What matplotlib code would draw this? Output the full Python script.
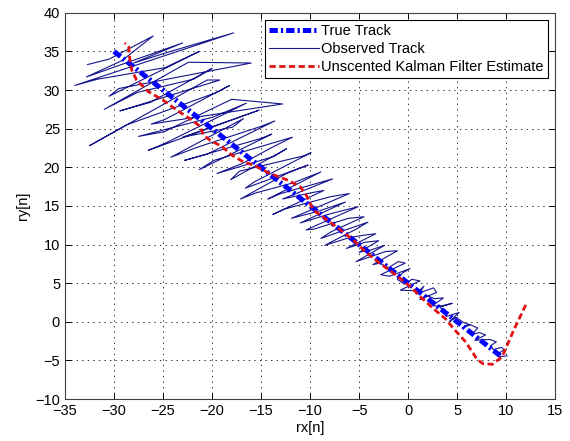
import matplotlib
matplotlib.use("Agg")
import matplotlib.pyplot as plt

plt.rcParams['font.family'] = ['Liberation Sans', 'DejaVu Sans']
plt.rcParams['lines.scale_dashes'] = False

# true track (straight line)
true_x = [-30.0, 9.6]
true_y = [35.0, -4.6]

# observed (noisy) track
obs_x = [10.1, 9.4, 9.1, 9.8, 9.5, 8.7, 8.4, 9.0, 8.4, 7.7, 6.8, 7.9, 7.3, 6.5, 7.1, 6.2,
         5.5, 6.3, 5.6, 4.9, 4.2, 4.6, 5.2, 3.9, 3.7, 3.2, 4.5, 3.5, 2.5, 3.6, 2.7, 1.9,
         1.2, 2.9, 2.6, 0.8, 1.6, 1.3, -0.8, 1.2, 0.4, -0.4, -1.1, -0.6, 0.2, -1.9,
         -2.8, -0.3, -1.0, -2.0, -2.9, -3.6, -1.1, -2.3, -5.3, -2.4, -3.8, -5.0,
         -3.0, -4.4, -6.3, -3.3, -4.6, -6.0, -8.5, -5.3, -4.1, -8.9, -7.8, -4.5,
         -6.1, -9.6, -10.4, -5.1, -7.9, -11.0, -6.4, -9.2, -11.9, -6.0, -7.9, -12.6,
         -13.8, -8.6, -9.9, -12.8, -7.7, -13.0, -14.3, -8.9, -11.7, -15.5, -17.1,
         -12.4, -10.2, -16.6, -15.7, -9.9, -10.6, -17.2, -18.1, -12.4, -13.7, -19.5,
         -16.9, -14.0, -11.8, -19.8, -21.3, -13.9, -15.1, -22.8, -20.5, -13.6, -15.0,
         -21.5, -24.2, -16.8, -17.9, -23.0, -15.2, -26.5, -24.8, -16.5, -19.9, -27.5,
         -24.9, -18.0, -12.8, -26.2, -24.8, -18.2, -19.5, -28.7, -32.5, -20.5, -19.2,
         -29.4, -26.3, -20.0, -21.9, -27.6, -31.0, -22.4, -16.0, -29.5, -30.5, -21.3,
         -24.8, -31.7, -34.0, -17.8, -24.5, -28.0, -23.0, -32.8, -29.2, -26.0, -30.5,
         -32.7]
obs_y = [-4.4, -4.5, -4.2, -3.6, -3.3, -3.6, -3.1, -2.6, -2.3, -2.3, -2.4, -1.7, -1.4, -1.6,
         -0.8, -0.3, -0.8, -0.4, -0.05, 0.6, 0.0, 0.5, 1.2, 0.7, 1.2, 2.0, 2.4, 2.0,
         2.1, 3.1, 3.0, 3.4, 2.9, 3.8, 4.4, 3.6, 4.6, 4.0, 4.1, 5.3, 5.5, 4.9, 5.5,
         6.3, 6.9, 5.9, 6.1, 7.6, 7.8, 7.0, 7.6, 7.4, 9.2, 9.1, 7.8, 9.9, 9.3, 9.0,
         10.5, 10.3, 9.5, 11.4, 11.2, 10.9, 9.9, 12.0, 12.9, 10.8, 11.7, 13.6,
         13.4, 12.0, 11.9, 14.9, 14.0, 12.8, 15.5, 14.3, 13.4, 16.6, 16.2, 14.6,
         13.9, 17.0, 16.7, 15.9, 18.5, 16.6, 15.9, 19.4, 18.0, 16.7, 15.9,
         19.2, 20.3, 17.3, 18.1, 21.9, 21.5, 19.5, 18.4, 22.4, 21.4, 19.2,
         20.5, 22.5, 23.9, 20.9, 19.7, 24.3, 23.7, 20.9, 21.7, 26.0, 25.3,
         22.6, 21.3, 26.3, 25.2, 23.9, 27.4, 22.2, 23.1, 28.3, 26.5, 24.0,
         24.6, 28.8, 28.2, 25.6, 26.2, 30.6, 29.7, 25.5, 22.8, 31.3, 31.3,
         27.3, 28.4, 32.8, 31.4, 29.7, 27.5, 33.6, 33.5, 30.2, 29.2, 35.0,
         32.9, 31.4, 30.6, 37.4, 34.9, 33.5, 36.1, 31.7, 33.8, 37.0, 34.0,
         33.3]

# unscented kalman filter estimate
ukf_x = [12.0, 10.8, 9.6, 8.6, 7.6, 7.0, 6.5, 5.8, 4.8, 3.8, 2.5, 1.2, 0.3, -0.5, -1.5,
         -2.9, -4.2, -5.6, -6.9, -8.3, -9.7, -10.3, -11.0, -12.4, -14.1, -15.8, -16.8,
         -18.0, -19.0, -20.2, -20.9, -21.2, -22.4, -23.6, -25.0, -26.5, -27.7, -28.2,
         -28.4, -28.5, -28.9]
ukf_y = [2.2, -1.0, -4.5, -5.5, -5.4, -4.8, -3.8, -2.5, -1.1, 0.4, 1.8, 3.3, 4.5, 5.3, 6.3,
         7.6, 8.9, 10.6, 11.9, 13.2, 14.5, 16.2, 17.5, 18.4, 19.2, 20.3, 20.7,
         21.6, 22.7, 23.5, 24.2, 25.3, 26.4, 27.4, 28.7, 29.8, 31.3, 32.6,
         34.1, 35.6, 36.1]

fig = plt.figure(figsize=(5.7, 4.41), dpi=100)
ax = fig.add_axes([0.114, 0.095, 0.860, 0.876])

ax.plot(true_x, true_y, color='#0000ff', lw=3.6, linestyle=(0, (6.0, 2.2, 1.6, 2.2)),
        label='True Track', zorder=3)
ax.plot(obs_x, obs_y, color='#14148c', lw=0.8, label='Observed Track', zorder=2)
ax.plot(ukf_x, ukf_y, color='#e01010', lw=2.0, linestyle=(0, (4.5, 2.5)),
        label='Unscented Kalman Filter Estimate', zorder=4)

ax.set_xlim(-35, 15)
ax.set_ylim(-10, 40)
ax.set_xticks(range(-35, 16, 5))
ax.set_yticks(range(-10, 41, 5))
ax.tick_params(direction='in', top=True, right=True, length=4, labelsize=10.5,
               width=0.7)
ax.grid(True, color='0.2', linestyle=(0, (1, 3)), linewidth=0.7)
for s in ax.spines.values():
    s.set_linewidth(0.8)
    s.set_color('0.25')

ax.set_xlabel('rx[n]', fontsize=10.5, labelpad=2)
ax.set_ylabel('ry[n]', fontsize=10.5, labelpad=4)

leg = ax.legend(loc='upper right', fontsize=10.5, fancybox=False, framealpha=1,
                edgecolor='black', handlelength=3.4, handletextpad=0.15,
                borderpad=0.3, labelspacing=0.25, borderaxespad=0.5)
leg.get_frame().set_linewidth(0.8)

fig.savefig('out.png', dpi=100)
